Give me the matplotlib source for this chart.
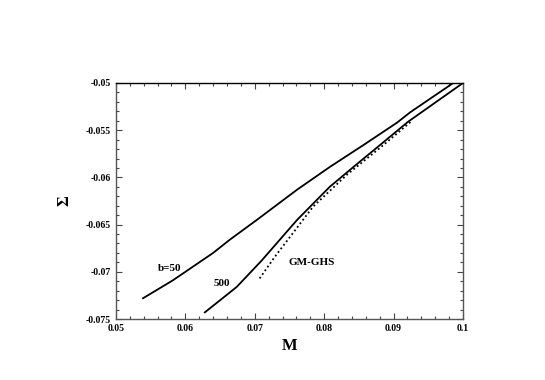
import matplotlib
matplotlib.use("Agg")
import matplotlib.pyplot as plt
from matplotlib.ticker import MultipleLocator

# b=50 curve
m_b50 = [0.0539, 0.0582, 0.0640, 0.0664, 0.0703, 0.0761, 0.0808, 0.0856, 0.0905, 0.0924, 0.0986]
s_b50 = [-0.0728, -0.0709, -0.0680, -0.0666, -0.0645, -0.0613, -0.0589, -0.0566, -0.0542, -0.0531, -0.0500]

# b=500 curve
m_b500 = [0.0628, 0.0674, 0.0710, 0.0761, 0.0808, 0.0847, 0.0880, 0.0921, 0.1000]
s_b500 = [-0.0743, -0.0716, -0.0688, -0.0645, -0.0610, -0.0586, -0.0566, -0.0541, -0.0500]

# GM-GHS (dotted)
m_gm = [0.0707, 0.0729, 0.0784, 0.0833, 0.0880, 0.0925]
s_gm = [-0.0707, -0.0684, -0.0631, -0.0597, -0.0569, -0.0541]

x_ticks = [0.05, 0.06, 0.07, 0.08, 0.09, 0.1]
x_labels = ['0.05', '0.06', '0.07', '0.08', '0.09', '0.1']
y_ticks = [-0.075, -0.07, -0.065, -0.06, -0.055, -0.05]
y_labels = ['-0.075', '-0.07', '-0.065', '-0.06', '-0.055', '-0.05']

plt.rcParams['font.family'] = ['Liberation Serif', 'DejaVu Serif']
plt.rcParams['font.weight'] = 'bold'

fig = plt.figure(figsize=(5.45, 3.8), dpi=100)
ax = fig.add_axes([0.2128, 0.1605, 0.6367, 0.6211])

ax.plot(m_b50, s_b50, color='black', lw=1.3)
ax.plot(m_b500, s_b500, color='black', lw=1.3)
ax.plot(m_gm, s_gm, color='black', lw=1.3, linestyle=(0, (1, 1.5)))

ax.text(0.0561, -0.0697, 'b=50', fontsize=8, fontweight='bold', ha='left', va='center')
ax.text(0.0652, -0.0712, '500', fontsize=8, fontweight='bold', ha='center', va='center')
ax.text(0.0748, -0.0690, 'GM-GHS', fontsize=8, fontweight='bold', ha='left', va='center')

ax.set_xticks(x_ticks, x_labels, fontweight='bold')
ax.set_yticks(y_ticks, y_labels, fontweight='bold')
ax.set_xlim(0.05, 0.1)
ax.set_ylim(-0.075, -0.05)
ax.xaxis.set_minor_locator(MultipleLocator(0.002))
ax.yaxis.set_minor_locator(MultipleLocator(0.001))
ax.tick_params(which='both', direction='in', top=True, right=True, labelsize=7, width=0.8, colors='#444444', labelcolor='black')
ax.tick_params(which='major', length=4)
ax.tick_params(which='minor', length=2)
for sp in ax.spines.values():
    sp.set_color('#555555')
    sp.set_linewidth(1.0)
ax.spines['top'].set_color('black')

ax.set_xlabel('M', fontsize=12, fontweight='bold', labelpad=4)
ax.set_ylabel('Σ', fontsize=12, fontweight='bold', labelpad=10)

fig.savefig('out.png', dpi=100)
